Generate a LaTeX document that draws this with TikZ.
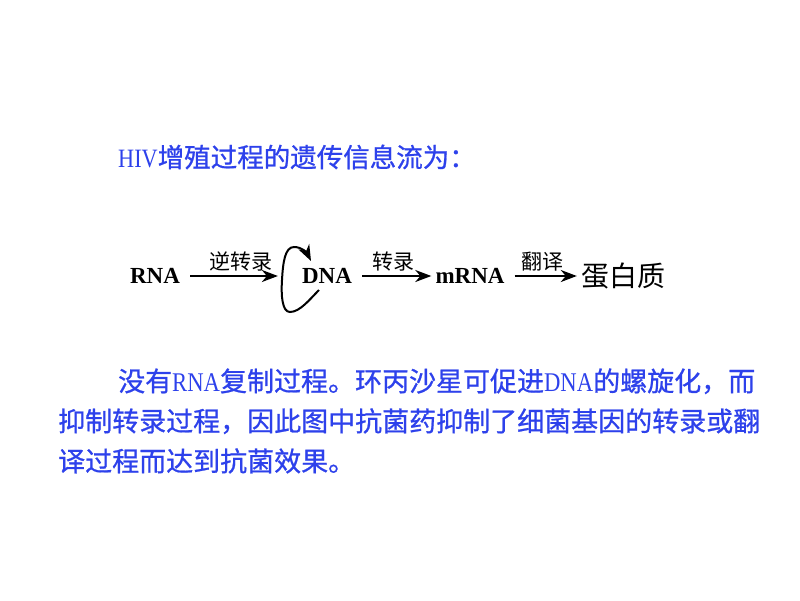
\documentclass[tikz,border=0pt]{standalone}
\usepackage{fontspec}
\setmainfont{Liberation Serif}
\newfontfamily\cjk{Noto Sans CJK SC}
\newfontfamily\cjkb[FakeBold=0.8]{Noto Sans CJK SC}
\newfontfamily\narrow[FakeStretch=0.84]{Liberation Serif}
\usetikzlibrary{arrows.meta}
\definecolor{textblue}{RGB}{45,65,235}
\tikzset{arr/.style={-{Stealth[length=16pt,width=12pt,inset=5pt]}, line width=2pt, shorten <=6pt},
         lab/.style={midway, above=4pt, inner sep=0pt, font=\cjk\fontsize{21pt}{21pt}\selectfont}}

\begin{document}
\begin{tikzpicture}[x=1pt,y=-1pt]
 \useasboundingbox (0,0) rectangle (800,600);
 \begin{scope}[every node/.style={inner sep=0pt, text=textblue, anchor=west}]
   \node (title) [font=\fontsize{26.5pt}{26.5pt}\selectfont] at (118,157) {{\narrow HIV}\cjkb 增殖过程的遗传信息流为：};
   \node (para) [align=left, font=\fontsize{27pt}{40pt}\selectfont] at (58,421)
     {\hspace*{60pt}\cjkb 没有{\narrow RNA}复制过程。环丙沙星可促进{\narrow DNA}的螺旋化，而\\
      \cjkb 抑制转录过程，因此图中抗菌药抑制了细菌基因的转录或翻\\
      \cjkb 译过程而达到抗菌效果。};
 \end{scope}
 \begin{scope}[every node/.style={inner sep=4pt, font=\bfseries\fontsize{23pt}{23pt}\selectfont}]
   \node (rna)  at (155,276) {RNA};
   \node (dna)  at (327,276) {DNA};
   \node (mrna) at (470,276) {mRNA};
   \node (prot) at (623,276) {\cjk\mdseries\fontsize{28pt}{28pt}\selectfont 蛋白质};
   \coordinate (loopa) at (319,290);
   \coordinate (loopb) at (311,261);
   \draw [arr, shorten >=20pt] (rna) -- (dna) node[lab] {逆转录};
   \draw [arr] (dna) -- (mrna) node[lab] {转录};
   \draw [arr] (mrna) -- (prot) node[lab] {翻译};
   \draw [arr, shorten <=0pt] (loopa) .. controls (310,299) and (300,312) .. (290,312)
     .. controls (282,312) and (281,295) .. (282,280)
     .. controls (283,262) and (285,247) .. (294,247)
     .. controls (302,247) and (307,253) .. (loopb);
 \end{scope}
\end{tikzpicture}
\end{document}
